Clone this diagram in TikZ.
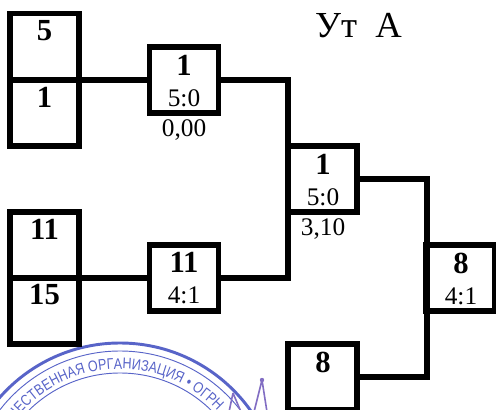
\documentclass[tikz,border=0pt]{standalone}
\usepackage{fontspec}
\setmainfont{Liberation Serif}
\newfontfamily\stampfont[FakeStretch=0.82]{Liberation Sans}
\usetikzlibrary{decorations.text}
\definecolor{stampblue}{RGB}{88,100,200}
\definecolor{penviolet}{RGB}{130,110,195}
\tikzset{
    seat/.style={draw,line width=4pt,outer sep=0pt,minimum width=51.75pt,minimum height=49.5pt,inner sep=0pt},
    link/.style={line width=4pt},
}
\def\num#1{\fontsize{23}{23}\selectfont\bfseries #1}
\def\res#1{\fontsize{19}{19}\selectfont #1}
\begin{document}
\begin{tikzpicture}[x=0.75pt,y=-0.75pt]
    \useasboundingbox (0,0) rectangle (496,410);
    \clip (0,0) rectangle (496,410);
    % stamp
    \draw[stampblue,line width=2.2pt] (120,503) circle (160);
    \draw[stampblue,line width=0.7pt] (120,503) circle (152);
    \draw[stampblue,line width=0.7pt] (120,503) circle (130);
    \path[decorate,decoration={text along path,text align=center,
        text={|\stampfont\fontsize{11.5}{11.5}\selectfont\color{stampblue}|ОБЩЕСТВЕННАЯ ОРГАНИЗАЦИЯ • ОГРН}}]
        (120,503) ++(163:134) arc[start angle=163,end angle=363,radius=134];
    \draw[penviolet,line width=1.2pt] (233,393) -- (229,412) (233,393) -- (241,412)
        (262,380) -- (254,412) (262,380) -- (267,412);
    \fill[penviolet] (262,380) circle (2.2);
    % first round
    \node[seat] (a1) at (44.5,46.75) {};
    \node[seat] (a2) at (44.5,113) {};
    \node[seat] (b1) at (44.5,245) {};
    \node[seat] (b2) at (44.5,311) {};
    \node[seat] (c1) at (184,80) {};
    \node[seat] (c2) at (184,278) {};
    \node[seat] (d1) at (322.5,179) {};
    \node[seat] (d2) at (322.5,377) {};
    \node[seat] (e1) at (460.5,278) {};
    % connectors
    \coordinate (cd) at (288,80);
    \coordinate (ce) at (288,278);
    \coordinate (de) at (427,179);
    \coordinate (ee) at (427,377);
    \draw[link] (a2.north east) -- (c1.west);
    \draw[link] (b2.north east) -- (c2.west);
    \draw[link] (c1.east) -- (cd) -- (ce) -- (c2.east);
    \draw[link] (d1.east) -- (de) -- (ee) -- (d2.east);
    % labels
    \node (t1) at (44.5,31) {\num{5}};
    \node (t2) at (44.5,97) {\num{1}};
    \node (t3) at (44.5,229) {\num{11}};
    \node (t4) at (44.5,295) {\num{15}};
    \node (t5) at (184,65) {\num{1}};
    \node (t6) at (184,98) {\res{5:0}};
    \node (t7) at (184,130) {\res{0,00}};
    \node (t8) at (184,262) {\num{11}};
    \node (t9) at (184,295) {\res{4:1}};
    \node (t10) at (323,164) {\num{1}};
    \node (t11) at (323,197) {\res{5:0}};
    \node (t12) at (323,229) {\res{3,10}};
    \node (t13) at (323,362) {\num{8}};
    \node (t14) at (461,263) {\num{8}};
    \node (t15) at (461,296) {\res{4:1}};
    \node (title) at (358.5,26) {\fontsize{27.5}{27.5}\selectfont Ут\ \ А};
\end{tikzpicture}
\end{document}
